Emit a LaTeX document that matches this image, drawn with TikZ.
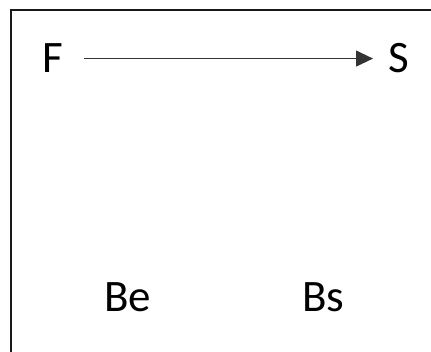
\documentclass[tikz,border=0pt]{standalone}
\usepackage{fontspec}
\setmainfont{Carlito}
\usetikzlibrary{arrows.meta}
\begin{document}
\begin{tikzpicture}[x=1pt,y=-1pt,
  lbl/.style={inner sep=0pt, font=\fontsize{45}{48}\selectfont, text=black},
  conn/.style={line width=1.2pt, draw=black!80, -{Triangle[length=17pt,width=16pt]}}]
\useasboundingbox (0,0) rectangle (431,352);
\fill[white] (0,0) rectangle (431,352);
\draw[line width=2pt, black!90] (11,400) -- (11,10) -- (480,10);
\node[lbl, anchor=base west] (F) at (42,73) {F};
\node[lbl, anchor=base west] (S) at (388,73) {S};
\node[lbl, anchor=base west] (Be) at (104,312) {Be};
\node[lbl, anchor=base west] (Bs) at (302,312) {Bs};
\draw[conn, shorten <=21pt, shorten >=15pt] (F.east) -- (S.west |- F.east);
\end{tikzpicture}
\end{document}
